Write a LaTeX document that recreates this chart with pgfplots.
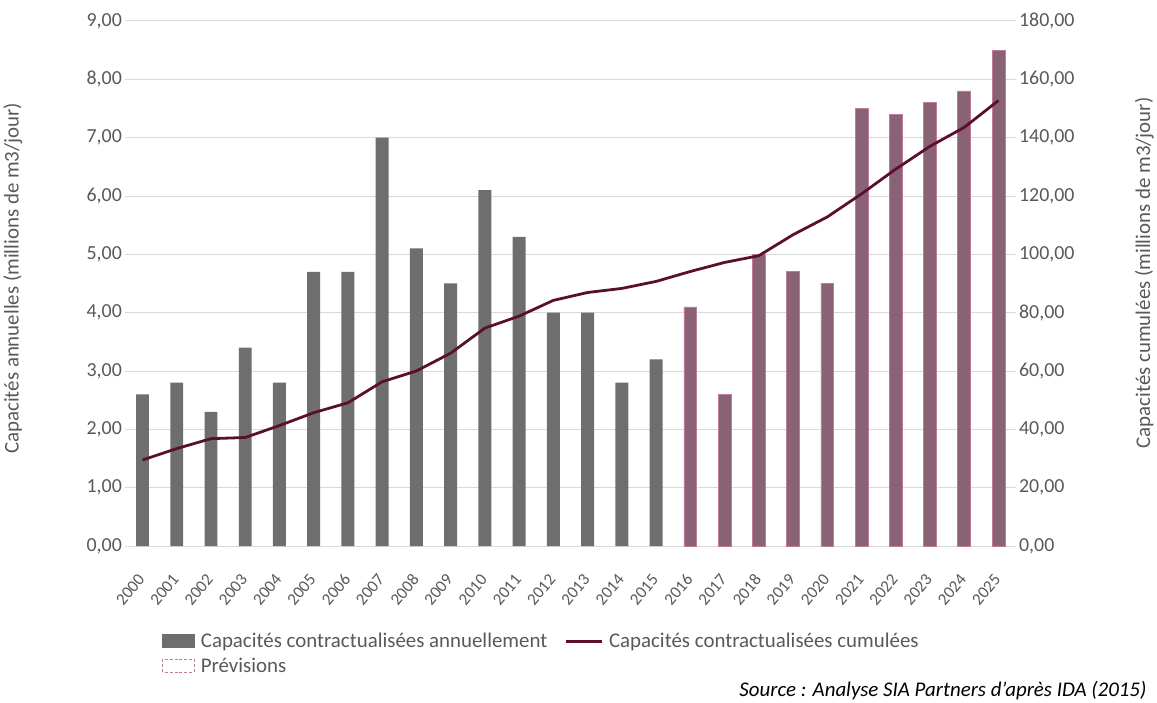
\documentclass[border=0pt]{standalone}
\usepackage{pgfplots}
\pgfplotsset{compat=1.18}
\usepackage{fontspec}
\setmainfont{Carlito}
\definecolor{txt}{HTML}{595959}
\definecolor{gridc}{HTML}{D9D9D9}
\definecolor{barg}{HTML}{6E6E6E}
\definecolor{fore}{HTML}{8A6276}
\definecolor{forep}{HTML}{C07A9A}
\definecolor{linec}{HTML}{5A0F2E}
\begin{document}
\begin{tikzpicture}[font=\fontsize{20}{24}\selectfont]
\begin{axis}[name=ax,
  scale only axis, width=895pt, height=528pt,
  xmin=-0.5, xmax=25.5, ymin=0, ymax=9,
  ytick={0,1,...,9},
  xtick={0,...,25},
  xticklabels={2000,2001,2002,2003,2004,2005,2006,2007,2008,2009,2010,2011,2012,2013,2014,2015,2016,2017,2018,2019,2020,2021,2022,2023,2024,2025},
  x tick label style={rotate=50, anchor=north east, inner sep=0pt, xshift=-24pt, yshift=-13pt, text=txt, font=\fontsize{17}{20}\selectfont},
  y tick label style={text=txt, font=\fontsize{20}{24}\selectfont},
  yticklabel style={/pgf/number format/.cd, fixed, fixed zerofill, precision=2, use comma, assume math mode=true},
  ymajorgrids, xmajorgrids=false, grid style={draw=gridc, line width=0.8pt},
  axis x line*=bottom, axis y line*=left,
  x axis line style={draw=gridc, line width=0.8pt},
  y axis line style={draw=none},
  major tick length=0pt,
  ylabel={Capacités annuelles (millions de m3/jour)},
  ylabel style={text=txt, font=\fontsize{21}{24}\selectfont, at={(axis description cs:-0.112,0.51)}},
  legend columns=2,
  legend style={draw=none, fill=none, inner xsep=0pt, at={(0.041,-0.158)}, anchor=north west, text=txt, font=\fontsize{21}{26}\selectfont, /tikz/every even column/.append style={column sep=15pt}, /tikz/every odd column/.append style={column sep=4pt}, legend cell align=left, row sep=5pt},
]
\addplot[ybar, bar width=13pt, bar shift=0pt, fill=barg, draw=none, forget plot] coordinates {
(0,2.6)(1,2.8)(2,2.3)(3,3.4)(4,2.8)(5,4.7)(6,4.7)(7,7.0)(8,5.1)(9,4.5)(10,6.1)(11,5.3)(12,4.0)(13,4.0)(14,2.8)(15,3.2)};
\addplot[ybar, bar width=13pt, bar shift=0pt, fill=fore, draw=forep, line width=0.6pt, forget plot] coordinates {
(16,4.1)(17,2.6)(18,5.0)(19,4.7)(20,4.5)(21,7.5)(22,7.4)(23,7.6)(24,7.8)(25,8.5)};
\addlegendimage{legend image code/.code={\fill[barg] (0pt,-6pt) rectangle (32pt,7pt);}}
\addlegendentry{Capacités contractualisées annuellement}
\addlegendimage{legend image code/.code={\draw[linec, line width=3pt] (0pt,0pt) -- (36pt,0pt);}}
\addlegendentry{Capacités contractualisées cumulées}
\addlegendimage{legend image code/.code={\draw[forep, densely dashed, line width=1pt] (0pt,-6pt) rectangle (32pt,7pt);}}
\addlegendentry{Prévisions}
\end{axis}
\begin{axis}[
  scale only axis, width=895pt, height=528pt,
  xmin=-0.5, xmax=25.5, ymin=0, ymax=180,
  ytick={0,20,...,180},
  axis y line*=right, axis x line=none,
  y axis line style={draw=none},
  major tick length=0pt,
  y tick label style={text=txt, font=\fontsize{20}{24}\selectfont},
  yticklabel style={/pgf/number format/.cd, fixed, fixed zerofill, precision=2, use comma, assume math mode=true},
  ylabel={Capacités cumulées (millions de m3/jour)},
  ylabel style={text=txt, font=\fontsize{21}{24}\selectfont, at={(axis description cs:1.13,0.52)}},
]
\addplot[linec, line width=2.8pt] coordinates {
(0,29.5)(1,33.4)(2,36.8)(3,37.2)(4,41.3)(5,45.7)(6,49.1)(7,56.3)(8,60.0)(9,66.1)(10,74.7)(11,78.8)(12,84.2)(13,86.9)(14,88.3)(15,90.7)(16,94.1)(17,97.2)(18,99.5)(19,106.7)(20,112.8)(21,120.7)(22,129.2)(23,137.0)(24,143.5)(25,152.7)};
\end{axis}
\node[anchor=east, font=\itshape\fontsize{21}{25}\selectfont, text=black] at ([xshift=135pt, yshift=-145pt]ax.south east) {Source : Analyse SIA Partners d’après IDA (2015)};
\path ([xshift=-120pt,yshift=-155pt]ax.south west) rectangle ([xshift=142pt,yshift=21pt]ax.north east);
\end{tikzpicture}
\end{document}
